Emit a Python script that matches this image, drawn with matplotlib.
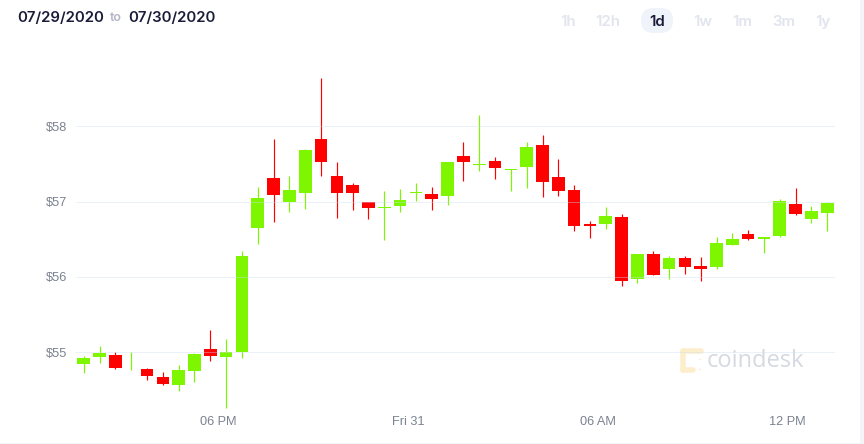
#!/usr/bin/env python

import matplotlib
matplotlib.use('Agg')
import matplotlib.pyplot as plt
import numpy as np
from matplotlib.patches import Circle, FancyBboxPatch, Rectangle

W, H = 864, 444
GREEN = '#7ef600'
RED = '#ff0000'

# half hour candles
opens = [54.84, 54.94, 54.96, 54.76, 54.78, 54.67, 54.57, 54.75, 55.05, 54.94, 55.00, 56.65,
         57.31, 56.99, 57.11, 57.83, 57.34, 57.22, 56.99, 56.91, 56.94, 57.11, 57.10, 57.07,
         57.61, 57.48, 57.54, 57.42, 57.46, 57.75, 57.32, 57.15, 56.70, 56.70, 56.79, 55.97,
         56.31, 56.10, 56.25, 56.15, 56.13, 56.43, 56.57, 56.50, 56.54, 56.97, 56.77, 56.85]
highs = [54.95, 55.08, 55.00, 55.01, 54.79, 54.74, 54.83, 54.99, 55.30, 55.18, 56.34, 57.19,
         57.83, 57.34, 57.70, 58.64, 57.52, 57.25, 57.00, 57.14, 57.17, 57.25, 57.19, 57.53,
         57.79, 58.15, 57.59, 57.43, 57.79, 57.88, 57.57, 57.22, 56.74, 56.93, 56.84, 56.30,
         56.35, 56.28, 56.28, 56.26, 56.53, 56.58, 56.62, 56.53, 57.04, 57.18, 56.94, 56.99]
lows = [54.73, 54.86, 54.78, 54.76, 54.63, 54.57, 54.48, 54.60, 54.88, 54.26, 54.92, 56.44,
        56.73, 56.86, 56.90, 57.34, 56.78, 56.89, 56.77, 56.49, 56.86, 57.01, 56.89, 56.96,
        57.27, 57.41, 57.30, 57.14, 57.18, 57.06, 57.07, 56.61, 56.52, 56.64, 55.88, 55.92,
        56.03, 55.97, 56.04, 55.95, 56.10, 56.42, 56.49, 56.32, 56.53, 56.82, 56.71, 56.61]
closes = [54.93, 54.99, 54.79, 54.77, 54.69, 54.58, 54.76, 54.98, 54.95, 55.00, 56.28, 57.05,
          57.09, 57.16, 57.69, 57.52, 57.11, 57.11, 56.91, 56.93, 57.02, 57.13, 57.04, 57.52,
          57.52, 57.50, 57.44, 57.43, 57.73, 57.26, 57.14, 56.67, 56.67, 56.81, 55.95, 56.30,
          56.03, 56.25, 56.13, 56.10, 56.45, 56.51, 56.51, 56.53, 57.01, 56.83, 56.87, 56.98]

price_ticks = [55, 56, 57, 58]
time_ticks = [8.5, 20.5, 32.5, 44.5]
time_labels = ['06 PM', 'Fri 31', '06 AM', '12 PM']
ranges = ['1h', '12h', '1d', '1w', '1m', '3m', '1y']
range_x = [568, 608, 657, 703, 742.5, 784, 823]

fig = plt.figure(figsize=(W / 100, H / 100), dpi=100, facecolor='white')

# page furniture, in pixel coordinates
page = fig.add_axes([0, 0, 1, 1], zorder=0)
page.set_xlim(0, W)
page.set_ylim(H, 0)
page.axis('off')
page.add_patch(Rectangle((860, 0), 4, H, color='#f3f5f9', lw=0))
page.add_patch(Rectangle((0, 442.7), W, 2, color='#f3f5f9', lw=0))

page.text(17.5, 17.8, '07/29/2020', family='Inter', weight='semibold', fontsize=10.8, color='#1b1c3a', va='center')
page.text(110, 18.3, 'to', family='Inter', weight='semibold', fontsize=9, color='#b4b6c6', va='center')
page.text(128.5, 17.8, '07/30/2020', family='Inter', weight='semibold', fontsize=10.8, color='#1b1c3a', va='center')

page.add_patch(FancyBboxPatch((653.5, 20.5), 7, 0, boxstyle='round,pad=12.5,rounding_size=12.5', lw=0, color='#eff3fa'))
for label, x in zip(ranges, range_x):
    color = '#1b1c3a' if label == '1d' else '#e2e4ee'
    page.text(x, 22, label, family='Inter', weight='semibold', fontsize=10.9, color=color, ha='center', va='center')

# watermark logo
LOGO = '#fdeecb'
page.plot([683, 701], [351, 351], color=LOGO, lw=4, solid_capstyle='round')
page.plot([683, 683], [351, 370], color=LOGO, lw=4, solid_capstyle='round')
page.plot([683, 693], [370, 370], color=LOGO, lw=4, solid_capstyle='round')
page.add_patch(Circle((700, 359.5), 0.9, color=LOGO, lw=0))
page.add_patch(Circle((700, 369.5), 0.9, color=LOGO, lw=0))
page.text(707, 360.5, 'coindesk', family='Open Sans', weight='normal', fontsize=17, color='#d6d9e1', va='center')

# candles
ax = fig.add_axes([76 / W, 1 - 410 / H, 759 / W, 360 / H], zorder=1)
ax.patch.set_alpha(0)

idx = np.arange(len(opens))
o = np.array(opens)
c = np.array(closes)
colors = [GREEN if b >= a else RED for a, b in zip(opens, closes)]
ax.vlines(idx, lows, highs, colors=colors, lw=0.85, zorder=2)
ax.bar(idx, np.abs(c - o), 0.8, bottom=np.minimum(o, c), color=colors, lw=0, zorder=3)

ax.set_xlim(-0.49, 47.49)
ax.set_ylim(54.234, 59.012)
ax.set_yticks(price_ticks)
ax.set_yticklabels(['$%d' % p for p in price_ticks])
ax.set_xticks(time_ticks)
ax.set_xticklabels(time_labels)
ax.tick_params(length=0, labelsize=9.2, labelcolor='#7b8291', labelfontfamily='Liberation Sans')
ax.tick_params(axis='y', pad=6.5)
ax.tick_params(axis='x', pad=4.5)
for side in ax.spines:
    ax.spines[side].set_visible(False)
ax.grid(False)
for p in price_ticks:
    ax.axhline(p, color='#cfdcf2', lw=0.72, ls=(0, (1, 1)), alpha=0.8, zorder=4)

fig.savefig('out.png', dpi=100)
